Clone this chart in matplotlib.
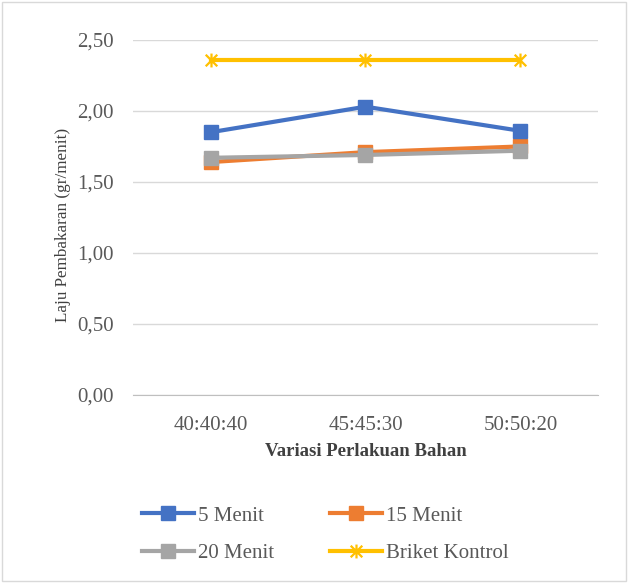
import matplotlib
matplotlib.use("Agg")
import matplotlib.pyplot as plt
from matplotlib.path import Path
from matplotlib.ticker import FuncFormatter

categories = ["40:40:40", "45:45:30", "50:50:20"]
menit_5 = [1.85, 2.03, 1.86]
menit_15 = [1.64, 1.71, 1.75]
menit_20 = [1.67, 1.69, 1.72]
briket_kontrol = [2.36, 2.36, 2.36]

plt.rcParams["font.family"] = ["Liberation Serif", "DejaVu Serif"]

# asterisk marker like the spreadsheet "star" marker
star = Path(
    [(-1, -1), (1, 1), (-1, 1), (1, -1), (0, -1.2), (0, 1.2)],
    [Path.MOVETO, Path.LINETO, Path.MOVETO, Path.LINETO, Path.MOVETO, Path.LINETO],
)

fig = plt.figure(figsize=(6.28, 5.83), dpi=100)
ax = fig.add_axes([0.212, 0.3225, 0.74, 0.609])

x = range(len(categories))
l5, = ax.plot(x, menit_5, color="#4472C4", lw=3, marker="s", ms=9.5, label="5 Menit", zorder=4)
l15, = ax.plot(x, menit_15, color="#ED7D31", lw=3, marker="s", ms=9.5, label="15 Menit", zorder=3)
l20, = ax.plot(x, menit_20, color="#A5A5A5", lw=3, marker="s", ms=9.5, label="20 Menit", zorder=5)
lb, = ax.plot(x, briket_kontrol, color="#FFC000", lw=3, marker=star, ms=10, mew=1.6,
              label="Briket Kontrol", zorder=3)

ax.set_xlim(-0.5, 2.5)
ax.set_ylim(0, 2.5)
ax.set_yticks([0, 0.5, 1.0, 1.5, 2.0, 2.5])
ax.yaxis.set_major_formatter(FuncFormatter(lambda v, p: f"{v:.2f}".replace(".", ",")))
ax.set_xticks(list(x))
ax.set_xticklabels(categories)
ax.grid(axis="y", color="#D9D9D9", lw=1)
ax.set_axisbelow(True)
for s in ["top", "right", "left"]:
    ax.spines[s].set_visible(False)
ax.spines["bottom"].set_color("#BFBFBF")
ax.tick_params(axis="both", length=0, labelsize=15, colors="#595959")
ax.tick_params(axis="x", pad=15)
ax.tick_params(axis="y", pad=14)
ax.set_ylabel("Laju Pembakaran (gr/menit)", fontsize=12.3, color="#404040")
ax.yaxis.set_label_coords(-0.133, 0.48)
ax.set_xlabel("Variasi Perlakuan Bahan", fontsize=13.5, fontweight="bold", color="#404040", labelpad=6)

fig.legend(handles=[l5, l20, l15, lb], ncol=2, loc="center", bbox_to_anchor=(0.518, 0.083),
           frameon=False, fontsize=15, handlelength=2.5, handletextpad=0.2,
           columnspacing=2.7, labelspacing=0.85, labelcolor="#595959")

border = plt.Rectangle((0.003, 0.003), 0.994, 0.994, transform=fig.transFigure,
                       fill=False, edgecolor="#D9D9D9", lw=1)
fig.patches.append(border)

fig.savefig("out.png", dpi=100)
